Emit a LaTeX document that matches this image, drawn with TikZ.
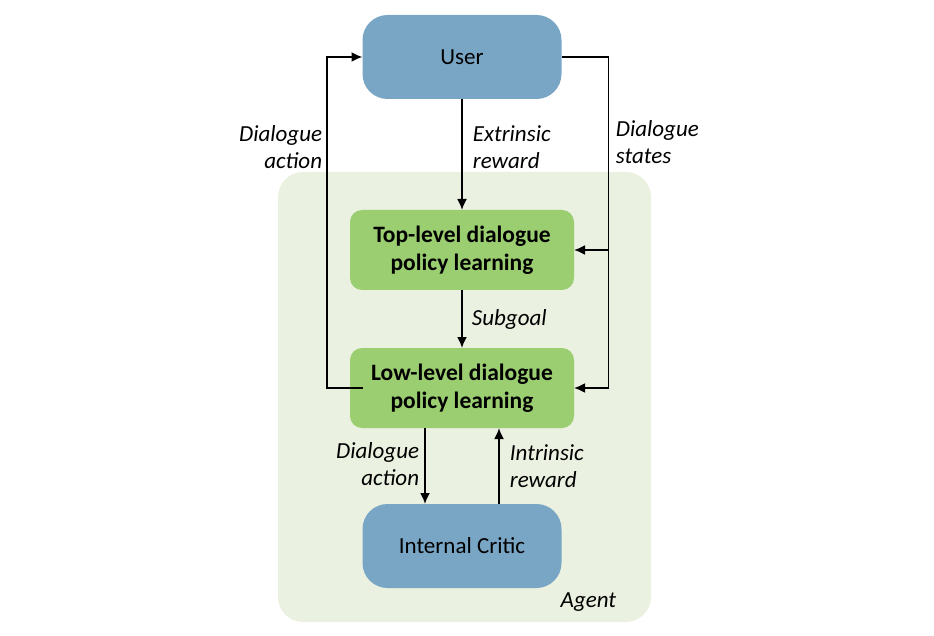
\documentclass[tikz,border=0pt]{standalone}
\usepackage{fontspec}
\setmainfont{Carlito}
\usetikzlibrary{positioning, arrows.meta}

\definecolor{userblue}{RGB}{122,166,198}
\definecolor{policygreen}{RGB}{155,206,112}
\definecolor{agentbg}{RGB}{235,241,224}

\begin{document}
\begin{tikzpicture}[x=1pt, y=1pt, line width=1.8pt,
	bluebox/.style={rectangle, rounded corners=25pt, fill=userblue, outer sep=0pt,
		minimum width=199pt, minimum height=84pt, font=\fontsize{23}{27}\selectfont},
	greenbox/.style={rectangle, rounded corners=12pt, fill=policygreen, align=center, outer sep=0pt,
		minimum width=224pt, minimum height=80pt, font=\fontsize{23.5}{28}\selectfont\bfseries},
	lbl/.style={inner sep=0pt, font=\fontsize{23}{27}\selectfont\itshape}]

	\useasboundingbox (0,0) rectangle (934,-636);
	\fill[agentbg, rounded corners=25pt] (278,-172) rectangle (651,-622);

	\node[bluebox] (user) at (462,-57) {User};
	\node[greenbox, below=111pt of user] (top) {Top-level dialogue\\policy learning};
	\node[greenbox, below=58pt of top] (low) {Low-level dialogue\\policy learning};
	\node[bluebox, below=76pt of low] (critic) {Internal Critic};

	\draw[->, >={Latex[length=11pt, width=10pt]}]
	(user) edge (top)
	(top) edge (low)
	([xshift=-37pt]low.south) edge ([xshift=-37pt]critic.north)
	([xshift=37pt]critic.north) edge ([xshift=37pt]low.south)
	([xshift=13pt]low.west) -- ++(-36pt,0) |- (user.west);

	\draw[->, >={Latex[length=11pt, width=10pt]}]
	(user.east) -- ++(47pt,0) coordinate (rail) |- (low.east);
	\draw[->, >={Latex[length=11pt, width=10pt]}] (rail |- top.east) -- (top.east);

	\node[lbl, align=right, anchor=east] (act1) at (323,-147) {Dialogue\\action};
	\node[lbl, align=left, anchor=west] (ext) at (472,-147) {Extrinsic\\reward};
	\node[lbl, align=left, anchor=west] (states) at (615,-142) {Dialogue\\states};
	\node[lbl, anchor=west] (sub) at (471,-319) {Subgoal};
	\node[lbl, align=right, anchor=east] (act2) at (420,-464) {Dialogue\\action};
	\node[lbl, align=left, anchor=west] (intr) at (509,-466) {Intrinsic\\reward};
	\node[lbl, anchor=east] (agent) at (617,-602) {Agent};

\end{tikzpicture}
\end{document}
